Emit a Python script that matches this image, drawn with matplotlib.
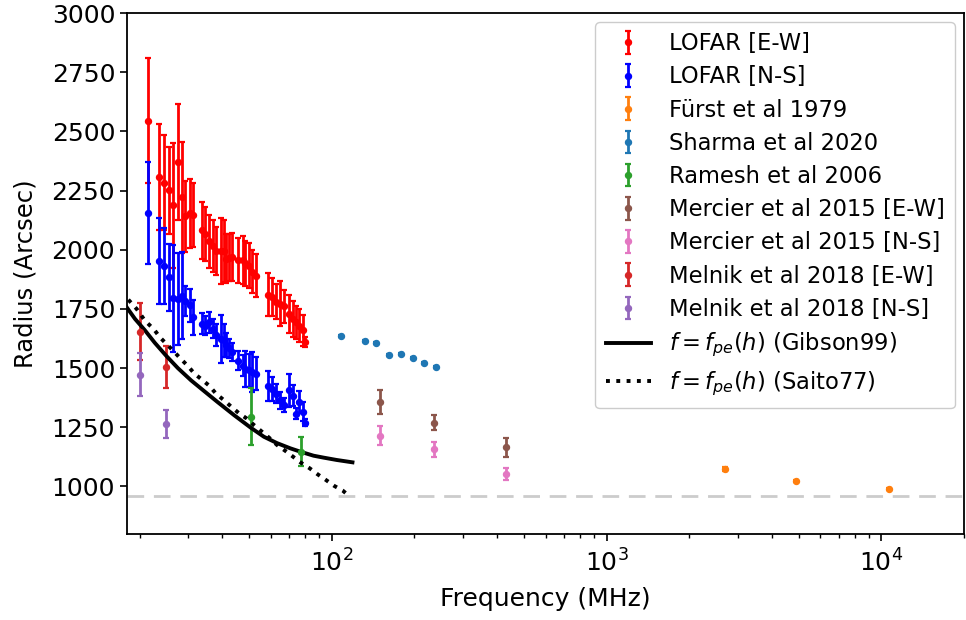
import numpy as np
import matplotlib
matplotlib.use('Agg')
from matplotlib import pyplot as plt

# LOFAR frequencies (MHz), shared by both polarisations
lofar_freq = [21.4, 23.5, 24.5, 25.6, 26.5, 27.5, 28.5, 29.2, 30.4, 31.4,
              33.7, 34.7, 35.7, 36.9, 37.9, 39.6, 40.4, 41.3, 42.3, 43.2,
              45.7, 47.5, 48.5, 49.9, 51.3, 53.0, 58.8, 60.7, 62.8, 65.1,
              66.9, 69.8, 72.1, 74.0, 76.3, 78.6, 79.7]
lofar_ew = [2545, 2307, 2284, 2251, 2188, 2370, 2221, 2141, 2154, 2145,
            2082, 2066, 2035, 2016, 1995, 1995, 1995, 1963, 1967, 1970,
            1956, 1956, 1942, 1932, 1908, 1890, 1810, 1799, 1781, 1771,
            1761, 1729, 1708, 1693, 1680, 1659, 1611]
lofar_ew_err = [265, 225, 200, 185, 265, 245, 235, 150, 145, 135,
                120, 115, 110, 110, 100, 140, 130, 105, 100, 100,
                95, 100, 95, 95, 90, 90, 90, 80, 75, 95,
                70, 80, 75, 70, 70, 65, 20]
lofar_ns = [2154, 1953, 1930, 1883, 1795, 1792, 1806, 1785, 1765, 1714,
            1687, 1680, 1693, 1666, 1640, 1623, 1617, 1598, 1584, 1568,
            1532, 1511, 1497, 1490, 1483, 1476, 1424, 1413, 1392, 1364,
            1343, 1406, 1383, 1308, 1357, 1315, 1270]
lofar_ns_err = [215, 182, 160, 140, 225, 196, 185, 63, 70, 75,
                45, 40, 45, 40, 45, 100, 70, 50, 40, 40,
                40, 45, 75, 70, 85, 70, 65, 50, 40, 35,
                30, 70, 45, 25, 45, 40, 15]

furst_freq = [2700, 4900, 10700]
furst_r = [1074, 1025, 989]
furst_err = [8, 4, 5]

sharma_freq = [108, 132, 145, 161, 179, 197, 217, 240]
sharma_r = [1635, 1614, 1606, 1556, 1559, 1542, 1521, 1504]
sharma_err = [3, 3, 3, 3, 3, 3, 3, 3]

ramesh_freq = [51, 77]
ramesh_r = [1294, 1147]
ramesh_err = [120, 60]

mercier_freq = [150, 236, 432]
mercier_ew = [1357, 1270, 1165]
mercier_ew_err = [49, 30, 40]
mercier_ns = [1214, 1157, 1053]
mercier_ns_err = [40, 32, 26]

melnik_freq = [20, 25]
melnik_ew = [1654, 1504]
melnik_ew_err = [120, 90]
melnik_ns = [1473, 1264]
melnik_ns_err = [92, 60]

# f = f_pe(h) model curves
gibson_freq = [17.95, 19.24, 20.9, 22.71, 24.95, 27.56, 30.8, 34.42, 38.4,
               44.17, 50.8, 56.67, 63.3, 70.76, 76.9, 85.9, 93.3, 104.2, 119]
gibson_r = [1757, 1708, 1660, 1607, 1553, 1500, 1448, 1402, 1357,
            1301, 1248, 1210, 1183, 1161, 1147, 1130, 1122, 1112, 1102]
saito_freq = [18.2, 19.51, 20.9, 22.58, 23.68, 25.0, 26.67, 28.19, 29.96, 31.7,
              33.66, 35.89, 37.94, 40.6, 43.19, 46.04, 49.1, 52.2, 55.4, 59.6,
              63.3, 67.9, 72.3, 76.9, 83.1, 89.0, 95.4, 102.3, 109.6, 116.5]
saito_r = [1789, 1750, 1701, 1663, 1631, 1603, 1570, 1540, 1509, 1476,
           1452, 1425, 1392, 1364, 1336, 1309, 1287, 1259, 1234, 1203,
           1175, 1150, 1126, 1102, 1077, 1051, 1027, 1002, 983, 957]

solar_radius = 960

plt.rcParams['font.family'] = ['DejaVu Sans']
fig, ax1 = plt.subplots(figsize=(9.66, 6.2), dpi=100)
fig.subplots_adjust(left=0.1315, right=0.998, top=0.979, bottom=0.139)

eb = dict(fmt='o', ms=4.3, elinewidth=2, capsize=2.5, capthick=1.6)

h1 = ax1.errorbar(lofar_freq, lofar_ew, yerr=lofar_ew_err, color='red', label='LOFAR [E-W]', **eb)
h2 = ax1.errorbar(lofar_freq, lofar_ns, yerr=lofar_ns_err, color='blue', label='LOFAR [N-S]', **eb)
h3 = ax1.errorbar(furst_freq, furst_r, yerr=furst_err, color='tab:orange', label='Fürst et al 1979', **eb)
h4 = ax1.errorbar(sharma_freq, sharma_r, yerr=sharma_err, color='tab:blue', label='Sharma et al 2020', **eb)
h5 = ax1.errorbar(ramesh_freq, ramesh_r, yerr=ramesh_err, color='tab:green', label='Ramesh et al 2006', **eb)
h6 = ax1.errorbar(mercier_freq, mercier_ew, yerr=mercier_ew_err, color='tab:brown', label='Mercier et al 2015 [E-W]', **eb)
h7 = ax1.errorbar(mercier_freq, mercier_ns, yerr=mercier_ns_err, color='tab:pink', label='Mercier et al 2015 [N-S]', **eb)
h8 = ax1.errorbar(melnik_freq, melnik_ew, yerr=melnik_ew_err, color='tab:red', label='Melnik et al 2018 [E-W]', **eb)
h9 = ax1.errorbar(melnik_freq, melnik_ns, yerr=melnik_ns_err, color='tab:purple', label='Melnik et al 2018 [N-S]', **eb)

l1, = ax1.plot(gibson_freq, gibson_r, 'k-', linewidth=2.8, label='$f=f_{pe}(h)$ (Gibson99)')
l2, = ax1.plot(saito_freq, saito_r, 'k:', linewidth=2.8, label='$f=f_{pe}(h)$ (Saito77)')

ax1.axhline(solar_radius, color='#cccccc', linewidth=2, linestyle=(0, (6, 3.5)), zorder=0)

ax1.set_xscale('log')
ax1.set_xlim(18, 20000)
ax1.set_ylim(800, 3000)
ax1.set_yticks(np.arange(1000, 3001, 250))

for s in ax1.spines.values():
    s.set_linewidth(1.3)
ax1.xaxis.set_tick_params(labelsize=18, width=1.2, length=5, pad=6)
ax1.xaxis.set_tick_params(which='minor', width=1, length=3)
ax1.yaxis.set_tick_params(labelsize=18, width=1.2, length=5)
ax1.set_xlabel('Frequency (MHz)', fontsize=18, labelpad=8)
ax1.set_ylabel('Radius (Arcsec)', fontsize=17.5, labelpad=10)

ax1.legend(handles=[h1, h2, h3, h4, h5, h6, h7, h8, h9, l1, l2],
           loc='upper right', fontsize=16.3, handlelength=2.0,
           borderpad=0.45, labelspacing=0.45, framealpha=1,
           borderaxespad=0.4)

fig.savefig('out.png', dpi=100)
